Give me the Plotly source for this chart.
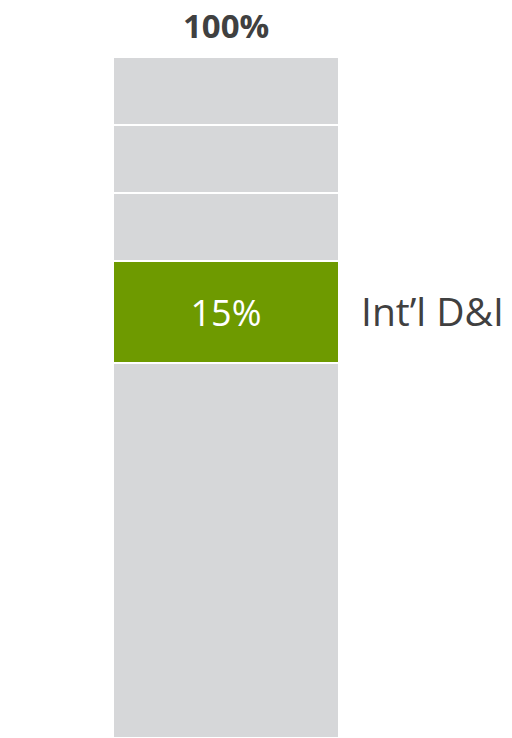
import plotly.graph_objects as go

# Segment shares of the single stacked bar (bottom to top)
segments = ['Other', "Int’l D&I", 'Seg 3', 'Seg 4', 'Seg 5']
values = [55, 15, 10, 10, 10]
colors = ['#D6D7D9', '#6E9A00', '#D6D7D9', '#D6D7D9', '#D6D7D9']
total_label = '100%'
highlight = "Int’l D&I"

fig = go.Figure()
for name, val, col in zip(segments, values, colors):
    is_hl = name == highlight
    fig.add_trace(go.Bar(
        x=['Total'], y=[val], name=name,
        marker=dict(color=col, line=dict(color='white', width=2)),
        width=1,
        text=[f'{val}%'] if is_hl else None,
        textposition='inside', insidetextanchor='middle',
        textfont=dict(family='Open Sans', size=36, color='white'),
        hoverinfo='skip',
    ))

# Label next to the highlighted segment
base = sum(values[:segments.index(highlight)])
fig.add_annotation(x=0.5, y=base + values[segments.index(highlight)] / 2,
                   xref='x', yref='y', text=highlight, showarrow=False,
                   xanchor='left', xshift=20, yanchor='middle', yshift=2,
                   font=dict(family='Open Sans', size=39, color='#404040'))

# Total on top
fig.add_annotation(x=0, y=sum(values), xref='x', yref='y', text=f'<b>{total_label}</b>',
                   showarrow=False, yanchor='bottom', yshift=8, borderpad=0,
                   font=dict(family='Open Sans', size=33, color='#404040'))

# page body has an 8px margin, so the figure is offset by 8px
fig.update_layout(
    barmode='stack',
    width=504, height=730,
    margin=dict(l=105, r=173, t=49, b=0),
    plot_bgcolor='white', paper_bgcolor='white',
    showlegend=False,
    xaxis=dict(visible=False, range=[-0.5, 0.5]),
    yaxis=dict(visible=False, range=[0, 100]),
)

fig.write_html("out.html")
